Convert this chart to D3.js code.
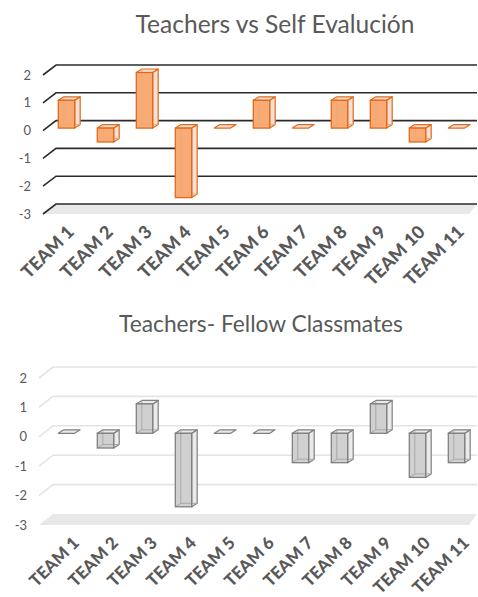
<!DOCTYPE html>
<html>
<head>
<meta charset="utf-8">
<script src="https://cdn.jsdelivr.net/npm/d3@7"></script>
<style>
  html, body { margin: 0; padding: 0; background: #fff; }
  svg { display: block; }
</style>
</head>
<body>
<svg id="chart" width="478" height="597"></svg>
<script>
// ---- data ----
const teams = ["TEAM 1", "TEAM 2", "TEAM 3", "TEAM 4", "TEAM 5", "TEAM 6",
               "TEAM 7", "TEAM 8", "TEAM 9", "TEAM 10", "TEAM 11"];
const selfEvalDiff = [1, -0.5, 2, -2.5, 0, 1, 0, 1, 1, -0.5, 0];
const classmatesDiff = [0, -0.5, 1, -2.5, 0, 0, -1, -1, 1, -1.5, -1];
const yTicks = [2, 1, 0, -1, -2, -3];
const yTickLabels = ["2", "1", "0", "-1", "-2", "-3"];
const titleSelf = "Teachers vs Self Evalución";
const titleClassmates = "Teachers- Fellow Classmates";

// ---- layout ----
const svg = d3.select("#chart");
const titleFont = "Lato, 'Open Sans', sans-serif";

const panels = [
  {
    title: titleSelf, values: selfEvalDiff,
    titleCx: 275, titleY: 33, titleW: 279,
    backTop: 65, backBottom: 204,
    wallX: 56, frontDx: -13, frontDy: 10, rightX: 477,
    barDy: 7.5, labelY: 233, labelDx: 6, labelSize: 18,
    grid: "#2b2b2b", gridW: 1.6, darkFloorLine: true,
    front: "#F8AB74", stroke: "#E2691B", side: "#F4E0D4", back: "#EFA878"
  },
  {
    title: titleClassmates, values: classmatesDiff,
    titleCx: 261, titleY: 332, titleW: 284,
    backTop: 367, backBottom: 514,
    wallX: 53, frontDx: -14, frontDy: 11, rightX: 477,
    barDy: 7.5, labelY: 544, labelDx: 11, labelSize: 17,
    grid: "#e4e4e4", gridW: 1.6, darkFloorLine: false,
    front: "#D0D0D0", stroke: "#808080", side: "#EAEAEA", back: "#A8A8A8"
  }
];

const x = d3.scaleBand()
  .domain(teams)
  .range([47, 476])
  .paddingInner(0.58)
  .paddingOuter(0.29);

const depthX = 5.5, depthY = -3.5;

function drawPanel(p) {
  const g = svg.append("g");
  const y = d3.scaleLinear()
    .domain([d3.min(yTicks), d3.max(yTicks)])
    .range([p.backBottom, p.backTop]);

  // title, sized to its measured width
  const t = g.append("text")
    .attr("x", p.titleCx).attr("y", p.titleY)
    .attr("text-anchor", "middle")
    .attr("font-family", titleFont)
    .attr("font-size", 20)
    .attr("fill", "#595959")
    .text(p.title);
  const tw = t.node().getComputedTextLength();
  t.attr("font-size", 20 * p.titleW / tw);

  // floor slab at the lowest tick
  const fy = y(d3.min(yTicks));
  g.append("path")
    .attr("d", `M${p.wallX},${fy} L${p.rightX},${fy} L${p.rightX - 8},${fy + p.frontDy} L${p.wallX + p.frontDx},${fy + p.frontDy} Z`)
    .attr("fill", "#e8e8e8");

  // gridlines: back wall plus the diagonal to the front edge
  yTicks.forEach(v => {
    const yy = y(v);
    if (v === d3.min(yTicks) && !p.darkFloorLine) return;
    g.append("path")
      .attr("d", `M${p.wallX + p.frontDx},${yy + p.frontDy} L${p.wallX},${yy} L${p.rightX},${yy}`)
      .attr("fill", "none")
      .attr("stroke", p.grid)
      .attr("stroke-width", p.gridW);
  });

  // value axis labels at the front edge
  g.selectAll("text.ytick")
    .data(yTicks)
    .join("text")
    .attr("class", "ytick")
    .attr("x", p.wallX + p.frontDx - 12)
    .attr("y", d => y(d) + p.frontDy)
    .attr("dy", "0.36em")
    .attr("text-anchor", "end")
    .attr("font-family", titleFont)
    .attr("font-size", 13)
    .attr("fill", "#595959")
    .text((d, i) => yTickLabels[i]);

  // bars as transparent-looking cuboids
  const yb = v => y(v) + p.barDy;
  const w = x.bandwidth();
  teams.forEach((team, i) => {
    const v = p.values[i];
    const x0 = x(team);
    const top = Math.min(yb(v), yb(0));
    const bot = Math.max(yb(v), yb(0));
    const bar = g.append("g");
    const topFace = `M${x0},${top} L${x0 + depthX},${top + depthY} L${x0 + w + depthX},${top + depthY} L${x0 + w},${top} Z`;
    if (v === 0) {
      bar.append("path").attr("d", topFace)
        .attr("fill", p.side).attr("stroke", p.stroke).attr("stroke-width", 1.2)
        .attr("stroke-linejoin", "round");
      return;
    }
    // side and top faces
    bar.append("path")
      .attr("d", `M${x0 + w},${top} L${x0 + w + depthX},${top + depthY} L${x0 + w + depthX},${bot + depthY} L${x0 + w},${bot} Z`)
      .attr("fill", p.side).attr("stroke", p.stroke).attr("stroke-width", 1.2)
      .attr("stroke-linejoin", "round");
    bar.append("path").attr("d", topFace)
      .attr("fill", p.side).attr("stroke", p.stroke).attr("stroke-width", 1.2)
      .attr("stroke-linejoin", "round");
    // front face
    bar.append("rect")
      .attr("x", x0).attr("y", top).attr("width", w).attr("height", bot - top)
      .attr("fill", p.front);
    // hidden back edges seen through the face
    bar.append("path")
      .attr("d", `M${x0 + depthX},${top + depthY} L${x0 + depthX},${bot + depthY} L${x0 + w + depthX},${bot + depthY} M${x0},${bot} L${x0 + depthX},${bot + depthY}`)
      .attr("fill", "none").attr("stroke", p.back).attr("stroke-width", 1);
    bar.append("rect")
      .attr("x", x0).attr("y", top).attr("width", w).attr("height", bot - top)
      .attr("fill", "none").attr("stroke", p.stroke).attr("stroke-width", 1.3);
  });

  // category labels, rotated
  g.selectAll("text.xtick")
    .data(teams)
    .join("text")
    .attr("class", "xtick")
    .attr("text-anchor", "end")
    .attr("transform", d => `translate(${x(d) + w / 2 + depthX / 2 + p.labelDx},${p.labelY}) rotate(-45)`)
    .attr("font-family", titleFont)
    .attr("font-weight", 900)
    .attr("font-size", p.labelSize)
    .attr("fill", "#595959")
    .text(d => d);
}

panels.forEach(drawPanel);
</script>
</body>
</html>
